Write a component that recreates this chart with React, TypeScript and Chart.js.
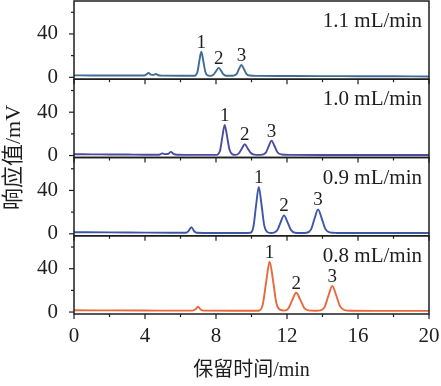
import React, { useEffect, useRef } from 'react';
import { Chart, registerables } from 'chart.js';

Chart.register(...registerables);

// ---- data ----
const flowRates = ['1.1 mL/min', '1.0 mL/min', '0.9 mL/min', '0.8 mL/min'];
const seriesColors = ['#3f6d94', '#4d4ba0', '#3d57a8', '#e9683b'];

const trace11: [number, number][] = [
  [0, 1.8], [1, 1.7], [2, 1.7], [3, 1.6], [3.9, 1.6], [4.05, 2.4], [4.2, 3.9], [4.35, 2.4], [4.48, 2.2],
  [4.6, 3.0], [4.75, 1.9], [4.95, 1.5], [6, 1.4], [6.8, 1.4], [6.95, 4.6], [7.06, 14.9], [7.17, 23.7],
  [7.28, 15.5], [7.4, 5.2], [7.52, 1.8], [7.65, 1.3], [7.85, 2.3], [8.01, 5.8], [8.15, 8.7], [8.29, 5.9],
  [8.43, 2.6], [8.6, 1.4], [8.9, 1.4], [9.15, 2.8], [9.29, 7.5], [9.43, 11.4], [9.57, 7.7], [9.72, 3.0],
  [9.9, 1.6], [10.3, 1.3], [12, 1.2], [14, 1.1], [16, 1.0], [18, 0.9], [20, 0.8],
];
const trace10: [number, number][] = [
  [0, 1.2], [1, 1.1], [2, 1.0], [3, 0.9], [4, 0.8], [4.8, 0.8], [4.92, 1.6], [5.0, 2.0], [5.1, 1.3],
  [5.3, 1.4], [5.46, 3.4], [5.6, 1.6], [5.8, 0.8], [7, 0.6], [8.0, 0.6], [8.1, 1.0], [8.23, 4.7],
  [8.36, 17.4], [8.49, 28.3], [8.62, 18], [8.76, 5.5], [8.9, 1.5], [9.1, 0.6], [9.3, 2.3], [9.46, 6.6],
  [9.62, 10.4], [9.78, 6.8], [9.95, 2.6], [10.15, 0.9], [10.5, 0.6], [10.81, 2.7], [10.97, 8.7],
  [11.13, 13.8], [11.29, 9.0], [11.46, 3.0], [11.7, 1.0], [12.2, 0.6], [14, 0.5], [17, 0.5], [20, 0.5],
];
const trace09: [number, number][] = [
  [0, 1.4], [2, 1.3], [4, 1.1], [5.5, 1.0], [6.3, 1.0], [6.45, 2.5], [6.61, 6.2], [6.76, 2.6], [6.9, 1.0],
  [8, 0.8], [9.5, 0.7], [9.95, 1.0], [10.11, 6.7], [10.26, 26.4], [10.41, 43.3], [10.56, 27.5],
  [10.72, 7.5], [10.88, 1.8], [11.1, 0.7], [11.25, 1.0], [11.45, 3.2], [11.64, 10.6], [11.83, 17],
  [12.02, 11], [12.22, 3.6], [12.45, 1.0], [12.8, 0.8], [13.1, 1.0], [13.35, 3.9], [13.55, 13.9],
  [13.75, 22.5], [13.95, 14.5], [14.16, 4.5], [14.4, 1.3], [14.8, 0.8], [16, 0.7], [18, 0.7], [20, 0.7],
];
const trace08: [number, number][] = [
  [0, 1.6], [2, 1.5], [4, 1.4], [6, 1.3], [6.7, 1.3], [6.85, 2.6], [6.99, 4.9], [7.12, 2.6], [7.3, 1.3],
  [9, 1.2], [10.2, 1.2], [10.45, 1.4], [10.64, 7.3], [10.83, 28.3], [11.02, 46.4], [11.21, 29.5],
  [11.4, 8.3], [11.6, 2.2], [11.85, 1.3], [12.08, 3.4], [12.3, 11.2], [12.52, 17.8], [12.74, 11.7],
  [12.96, 4.0], [13.2, 1.5], [13.6, 1.2], [13.9, 1.6], [14.11, 4.3], [14.33, 14.9], [14.55, 24],
  [14.77, 15.5], [15.0, 5.0], [15.25, 1.8], [15.6, 1.2], [17, 1.1], [20, 1.1],
];
const traces = [trace11, trace10, trace09, trace08];

const peakNames = ['1', '2', '3'];
const peakTimes11 = [7.17, 8.15, 9.43];
const peakTimes10 = [8.49, 9.62, 11.13];
const peakTimes09 = [10.41, 11.83, 13.75];
const peakTimes08 = [11.02, 12.52, 14.55];
const peakTimes = [peakTimes11, peakTimes10, peakTimes09, peakTimes08];

const xTicks = [0, 2, 4, 6, 8, 10, 12, 14, 16, 18, 20];
const xLabelled = [0, 4, 8, 12, 16, 20];
const yTicks = [0, 20, 40, 60];
const yLabelled = [0, 40];
const xTitle = '保留时间/min';
const yTitle = '响应值/mV';

const SERIF = '"Liberation Serif", "Times New Roman", serif';
const CJK = '"Liberation Serif", "Noto Sans CJK SC", serif';
const TEXT = '#1e1e1e';

const panelIds = ['y0', 'y1', 'y2', 'y3'];

const decor = {
  id: 'decor',
  afterDatasetsDraw(chart: any) {
    const ctx: CanvasRenderingContext2D = chart.ctx;
    const area = chart.chartArea;
    const xs = chart.scales.x;
    const seg = (x1: number, y1: number, x2: number, y2: number) => {
      ctx.beginPath();
      ctx.moveTo(x1, y1);
      ctx.lineTo(x2, y2);
      ctx.stroke();
    };
    ctx.save();
    ctx.fillStyle = TEXT;
    ctx.strokeStyle = '#1e1e1e';
    panelIds.forEach((id, i) => {
      const ys = chart.scales[id];
      ctx.lineWidth = 1.5;
      ctx.strokeRect(area.left, ys.top, area.right - area.left, ys.bottom - ys.top);
      ctx.lineWidth = 1.2;
      yTicks.forEach((v) => {
        const py = ys.getPixelForValue(v);
        const len = yLabelled.includes(v) ? 5 : 3;
        seg(area.left - len, py, area.left, py);
      });
      xTicks.forEach((v) => {
        const px = xs.getPixelForValue(v);
        const len = xLabelled.includes(v) ? 5 : 3;
        seg(px, ys.bottom, px, ys.bottom + len);
      });
      ctx.font = `21px ${SERIF}`;
      ctx.textAlign = 'right';
      ctx.textBaseline = 'alphabetic';
      ctx.fillText(flowRates[i], area.right - 7, ys.top + 26);
      const pts = traces[i];
      ctx.font = `19px ${SERIF}`;
      ctx.textAlign = 'center';
      peakTimes[i].forEach((t, k) => {
        let best = pts[0];
        pts.forEach((p) => {
          if (Math.abs(p[0] - t) < Math.abs(best[0] - t)) best = p;
        });
        const px = xs.getPixelForValue(best[0]);
        const py = ys.getPixelForValue(best[1]);
        ctx.fillText(peakNames[k], px, py - 4);
      });
    });
    // axis titles
    ctx.font = `20px ${CJK}`;
    ctx.textAlign = 'center';
    ctx.textBaseline = 'middle';
    ctx.fillText(xTitle, (area.left + area.right) / 2, area.bottom + 57);
    ctx.save();
    ctx.translate(14, (area.top + area.bottom) / 2);
    ctx.rotate(-Math.PI / 2);
    ctx.font = `22px ${CJK}`;
    ctx.fillText(yTitle, 0, 0);
    ctx.restore();
    ctx.restore();
  },
};

export default function App() {
  const ref = useRef<HTMLCanvasElement | null>(null);
  useEffect(() => {
    if (!ref.current) return;
    const yScales: any = {};
    panelIds.forEach((id, i) => {
      yScales[id] = {
        type: 'linear',
        position: 'left',
        stack: 'panels',
        stackWeight: 1,
        weight: 4 - i,
        min: -1.8,
        max: 70.4,
        afterBuildTicks: (s: any) => {
          s.ticks = yTicks.map((v) => ({ value: v }));
        },
        afterFit: (s: any) => {
          s.width = 74;
          s.paddingTop = 0;
          s.paddingBottom = 0;
        },
        ticks: {
          padding: 0,
          color: TEXT,
          font: { family: SERIF, size: 21 },
          callback: (v: any) => (yLabelled.includes(v) ? String(v) : ''),
        },
        grid: { display: true, drawOnChartArea: false, tickLength: 16, tickColor: 'rgba(0,0,0,0)' },
        border: { display: false },
      };
    });
    const chart = new Chart(ref.current, {
      type: 'line',
      data: {
        datasets: traces.map((tr, i) => ({
          data: tr.map(([x, y]) => ({ x, y })),
          xAxisID: 'x',
          yAxisID: panelIds[i],
          borderColor: seriesColors[i],
          borderWidth: 1.9,
          pointRadius: 0,
          fill: false,
          cubicInterpolationMode: 'monotone' as const,
        })),
      },
      options: {
        animation: false,
        responsive: false,
        maintainAspectRatio: false,
        layout: { padding: { top: 1, right: 12, left: 0, bottom: 0 } },
        plugins: { legend: { display: false }, tooltip: { enabled: false } },
        scales: {
          x: {
            type: 'linear',
            position: 'bottom',
            min: 0,
            max: 20,
            afterBuildTicks: (s: any) => {
              s.ticks = xTicks.map((v) => ({ value: v }));
            },
            afterFit: (s: any) => {
              s.height = 72;
              s.paddingLeft = 0;
              s.paddingRight = 0;
            },
            ticks: {
              padding: 5,
              autoSkip: false,
              maxRotation: 0,
              color: TEXT,
              font: { family: SERIF, size: 21 },
              callback: (v: any) => (xLabelled.includes(v) ? String(v) : ''),
            },
            grid: { display: true, drawOnChartArea: false, tickLength: 5, tickColor: 'rgba(0,0,0,0)' },
            border: { display: false },
          },
          ...yScales,
        },
      } as any,
      plugins: [decor],
    });
    return () => chart.destroy();
  }, []);
  return (
    <div style={{ position: 'absolute', left: 0, top: 0, width: 441, height: 386, background: '#fff' }}>
      <canvas ref={ref} width={441} height={386} style={{ display: 'block', width: 441, height: 386 }} />
    </div>
  );
}
